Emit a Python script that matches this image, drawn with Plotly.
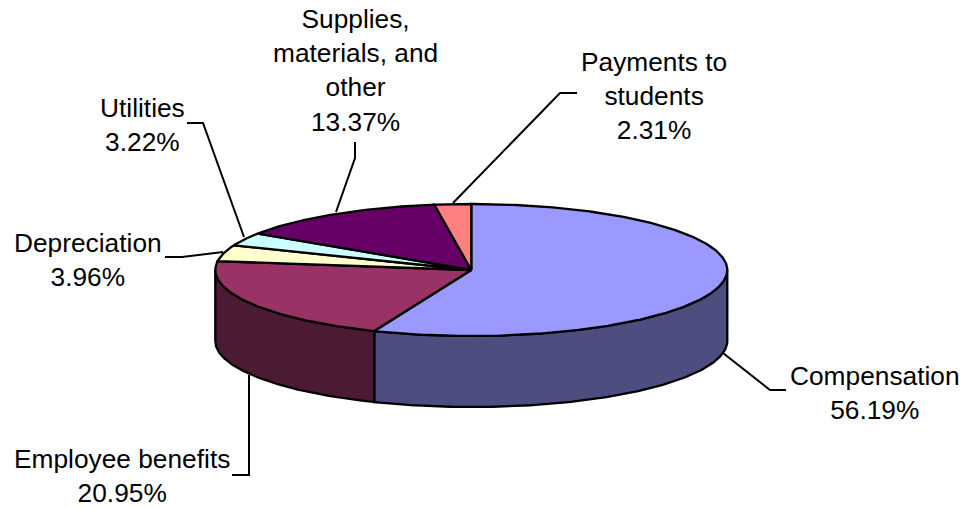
import math
import plotly.graph_objects as go

# Data, clockwise from 12 o'clock
categories = ["Compensation", "Employee benefits", "Depreciation", "Utilities",
              "Supplies, materials, and other", "Payments to students"]
label_lines = [["Compensation"], ["Employee benefits"], ["Depreciation"], ["Utilities"],
               ["Supplies,", "materials, and", "other"], ["Payments to", "students"]]
values = [56.19, 20.95, 3.96, 3.22, 13.37, 2.31]
top_colors = ["#9999FF", "#993366", "#FFFFCC", "#CCFFFF", "#660066", "#FF8080"]
side_colors = ["#4D4D80", "#4D1A33", "#808066", "#668080", "#330033", "#804040"]

# Pie projection (paper pixels)
CX, CY, RX, RY, DEPTH = 471.3, 270.0, 256.0, 66.0, 71.0


def rim(theta_deg, drop=0.0):
    t = math.radians(theta_deg)
    return CX + RX * math.sin(t), CY - RY * math.cos(t) + drop


def arc(a, b, drop=0.0):
    n = max(2, int(abs(b - a) * 2) + 1)
    pts = [rim(a + (b - a) * i / (n - 1), drop) for i in range(n)]
    return [p[0] for p in pts], [p[1] for p in pts]


fig = go.Figure()
total = sum(values)
angles = [0.0]
for v in values:
    angles.append(angles[-1] + v / total * 360.0)

LINE = dict(color="black", width=2.3)

# Visible outer wall: the front half of the rim only
for i in range(len(values)):
    a, b = max(angles[i], 90.0), min(angles[i + 1], 270.0)
    if a >= b:
        continue
    xt, yt = arc(a, b)
    xb, yb = arc(b, a, DEPTH)
    fig.add_trace(go.Scatter(x=xt + xb + [xt[0]], y=yt + yb + [yt[0]], mode="lines",
                             fill="toself", fillcolor=side_colors[i],
                             line=LINE, hoverinfo="skip", showlegend=False))

# Top faces
for i in range(len(values)):
    xa, ya = arc(angles[i], angles[i + 1])
    fig.add_trace(go.Scatter(x=[CX] + xa + [CX], y=[CY] + ya + [CY], mode="lines",
                             fill="toself", fillcolor=top_colors[i],
                             line=LINE, hoverinfo="skip", showlegend=False))

# Label placement and leader lines
label_pos = [(874.5, 393), (122, 476), (88, 260), (142, 125), (355, 70), (654, 96)]
leaders = [
    [(723, 353), (770, 390), (786, 390)],
    [(249, 375), (249, 475), (232, 475)],
    [(223, 252), (182, 257), (165, 257)],
    [(244, 237), (203, 123), (187, 123)],
    [(336, 212), (355, 158), (355, 142)],
    [(453, 203), (560, 93), (577, 93)],
]
for pts in leaders:
    fig.add_trace(go.Scatter(x=[p[0] for p in pts], y=[p[1] for p in pts], mode="lines",
                             line=dict(color="black", width=2), hoverinfo="skip", showlegend=False))

for lines, v, (x, y) in zip(label_lines, values, label_pos):
    fig.add_annotation(x=x, y=y, xref="x", yref="y", showarrow=False,
                       text="<br>".join(lines + [f"{v:.2f}%"]),
                       xanchor="center", yanchor="middle", align="center",
                       font=dict(family="Liberation Sans", size=26.3, color="#000000"))

fig.update_layout(width=964, height=508, margin=dict(l=0, r=0, t=0, b=0),
                  paper_bgcolor="white", plot_bgcolor="white", showlegend=False,
                  xaxis=dict(range=[0, 964], visible=False, fixedrange=True),
                  yaxis=dict(range=[508, 0], visible=False, fixedrange=True))

fig.write_html("out.html", config={"displayModeBar": False},
               post_script="document.body.style.margin='0';document.body.style.overflow='hidden';")
